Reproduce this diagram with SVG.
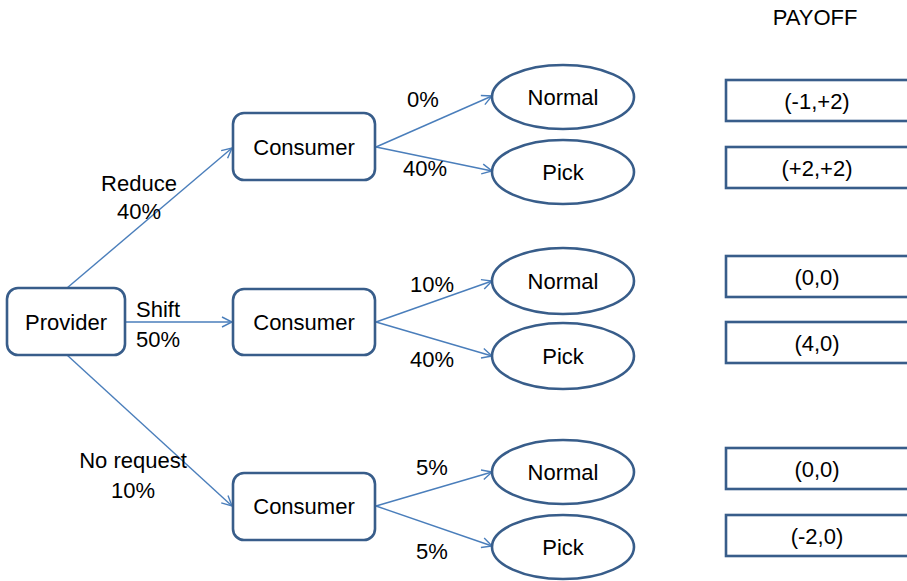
<svg xmlns="http://www.w3.org/2000/svg" width="907" height="581" viewBox="0 0 907 581">
<style>
.box{fill:#fff;stroke:#385D8A;stroke-width:2.6}
.t{font-family:"Liberation Sans",Arial,sans-serif;font-size:22px;fill:#000;text-anchor:middle}
.c{stroke:#4A7EBB;stroke-width:1.4;fill:none;marker-end:url(#arr)}
</style>
<defs>
<marker id="arr" viewBox="0 0 12 12" refX="11" refY="6" markerWidth="12" markerHeight="12" markerUnits="userSpaceOnUse" orient="auto">
<polyline points="1,1 11,6 1,11" fill="none" stroke="#4A7EBB" stroke-width="1.4"/>
</marker>
</defs>
<rect width="907" height="581" fill="#fff"/>
<g id="connectors">
<line class="c" x1="67" y1="288" x2="232" y2="148"/>
<line class="c" x1="125" y1="322" x2="232" y2="322"/>
<line class="c" x1="67" y1="355" x2="232" y2="506"/>
<line class="c" x1="376" y1="147" x2="492" y2="96"/>
<line class="c" x1="376" y1="147" x2="492" y2="171"/>
<line class="c" x1="376" y1="322" x2="492" y2="281"/>
<line class="c" x1="376" y1="322" x2="492" y2="356"/>
<line class="c" x1="376" y1="506" x2="492" y2="472"/>
<line class="c" x1="376" y1="506" x2="492" y2="546"/>
</g>
<g id="labels">
<text class="t" x="139" y="191">Reduce</text>
<text class="t" x="139" y="219">40%</text>
<text class="t" x="158" y="317">Shift</text>
<text class="t" x="158" y="347">50%</text>
<text class="t" x="133" y="468">No request</text>
<text class="t" x="133" y="498">10%</text>
<text class="t" x="423" y="107">0%</text>
<text class="t" x="425" y="176">40%</text>
<text class="t" x="432" y="292">10%</text>
<text class="t" x="432" y="367">40%</text>
<text class="t" x="432" y="475">5%</text>
<text class="t" x="432" y="559">5%</text>
<text class="t" x="815" y="25">PAYOFF</text>
</g>
<g id="provider">
<rect class="box" x="7" y="288" width="118" height="67" rx="11"/>
<text class="t" x="66" y="330">Provider</text>
</g>
<g id="consumer1">
<rect class="box" x="233" y="113" width="142" height="67" rx="11"/>
<text class="t" x="304" y="155">Consumer</text>
</g>
<g id="consumer2">
<rect class="box" x="233" y="289" width="142" height="66" rx="11"/>
<text class="t" x="304" y="330">Consumer</text>
</g>
<g id="consumer3">
<rect class="box" x="233" y="473" width="142" height="67" rx="11"/>
<text class="t" x="304" y="514">Consumer</text>
</g>
<g id="normal1">
<ellipse class="box" cx="563" cy="97" rx="71" ry="32"/>
<text class="t" x="563" y="105">Normal</text>
</g>
<g id="pick1">
<ellipse class="box" cx="563" cy="172" rx="71" ry="32"/>
<text class="t" x="563" y="180">Pick</text>
</g>
<g id="normal2">
<ellipse class="box" cx="563" cy="281" rx="71" ry="33"/>
<text class="t" x="563" y="289">Normal</text>
</g>
<g id="pick2">
<ellipse class="box" cx="563" cy="356" rx="71" ry="33"/>
<text class="t" x="563" y="364">Pick</text>
</g>
<g id="normal3">
<ellipse class="box" cx="563" cy="472" rx="71" ry="32"/>
<text class="t" x="563" y="480">Normal</text>
</g>
<g id="pick3">
<ellipse class="box" cx="563" cy="547" rx="71" ry="32"/>
<text class="t" x="563" y="555">Pick</text>
</g>
<g id="payoff1">
<rect class="box" x="726" y="80" width="200" height="41"/>
<text class="t" x="817" y="109">(-1,+2)</text>
</g>
<g id="payoff2">
<rect class="box" x="726" y="147" width="200" height="41"/>
<text class="t" x="817" y="176">(+2,+2)</text>
</g>
<g id="payoff3">
<rect class="box" x="726" y="256" width="200" height="41"/>
<text class="t" x="817" y="285">(0,0)</text>
</g>
<g id="payoff4">
<rect class="box" x="726" y="322" width="200" height="41"/>
<text class="t" x="817" y="351">(4,0)</text>
</g>
<g id="payoff5">
<rect class="box" x="726" y="448" width="200" height="41"/>
<text class="t" x="817" y="477">(0,0)</text>
</g>
<g id="payoff6">
<rect class="box" x="726" y="515" width="200" height="41"/>
<text class="t" x="817" y="544">(-2,0)</text>
</g>
</svg>
